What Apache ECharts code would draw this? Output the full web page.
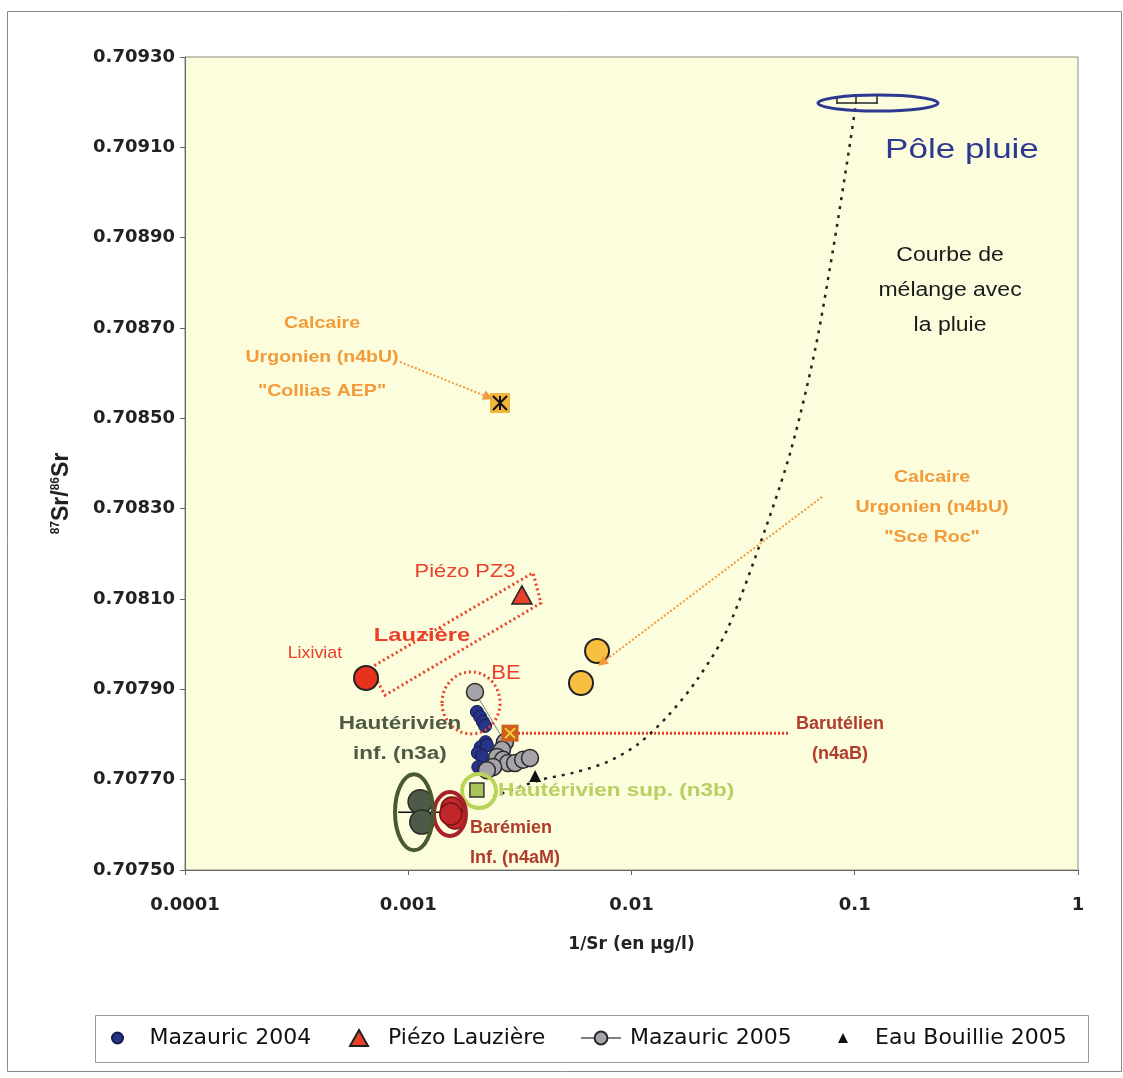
<!DOCTYPE html>
<html><head><meta charset="utf-8">
<script src="https://cdn.jsdelivr.net/npm/echarts@6/dist/echarts.min.js"></script>
<style>html,body{margin:0;padding:0;background:#fff}#c{width:1123px;height:1078px}</style>
</head><body><div id="c"></div>
<script>
// ---------- DATA ----------
const xTickLabels = ['0.0001', '0.001', '0.01', '0.1', '1'];
const yTickLabels = ['0.70750','0.70770','0.70790','0.70810','0.70830','0.70850','0.70870','0.70890','0.70910','0.70930'];

const mazauric2004 = [[0.00203,0.707850],[0.00210,0.707839],[0.00216,0.707828],[0.00221,0.707819],
  [0.00222,0.707783],[0.00211,0.707772],[0.00225,0.707776],[0.00205,0.707759],[0.00214,0.707752],[0.00206,0.707728]];
const mazauric2005 = [[0.00199,0.707894],[0.00271,0.707783],[0.00263,0.707766],[0.00250,0.707750],[0.00266,0.707744],
  [0.00280,0.707737],[0.00301,0.707737],[0.00327,0.707744],[0.00351,0.707748],[0.00240,0.707728],[0.00225,0.707721]];
const piezoLauziere = [[0.00323,0.708109]];
const eauBouillie2005 = [[0.00370,0.707708]];
const lixiviat = [[0.000647,0.707925]];
const colliasAEP = [[0.002576,0.708534]];
const sceRoc = [[0.00701,0.707985],[0.00594,0.707914]];
const barutelien = [[0.002857,0.707803]];
const hauterivienSup = [[0.00203,0.707677]];
const baremienInf = [[0.00157,0.707637],[0.00162,0.707615],[0.00155,0.707624]];
const hauterivienInf = [[0.00113,0.707651],[0.00115,0.707606]];
const hauterivienInfErr = [[0.00090,0.707628],[0.00162,0.707628]];
const polePluieErr = [[0.08325,0.1258,0.709198,0.1013]]; // [low, high, y, centre]
const mixingCurve = [[0.00240,0.707662],[0.00389,0.707699],[0.00547,0.707715],[0.00776,0.707739],[0.01058,0.707777],
  [0.01442,0.707839],[0.01965,0.707921],[0.02678,0.708031],[0.03963,0.708253],[0.05182,0.708430],
  [0.06637,0.708651],[0.07990,0.708873],[0.09423,0.709094],[0.1013,0.709198]];

// ---------- CHART ----------
const chart = echarts.init(document.getElementById('c'), null, {renderer:'canvas'});
const SANS = 'Liberation Sans, Arial, sans-serif';
const DJ = 'DejaVu Sans, sans-serif';
const legText = (pad)=>({fontFamily:DJ,fontSize:22,color:'#111',padding:[0,0,0,pad]});

const option = {
  backgroundColor:'#ffffff',
  animation:false,
  grid:{left:185,right:45,top:57,bottom:208,show:true,backgroundColor:'#fbfddc',borderColor:'#8c8c80',borderWidth:1},
  xAxis:{type:'log',logBase:10,min:0.0001,max:1,splitNumber:4,
    name:'1/Sr (en µg/l)',nameLocation:'middle',nameGap:66,
    nameTextStyle:{fontFamily:DJ,fontWeight:'bold',fontSize:17,color:'#222'},
    axisLine:{show:true,onZero:false,lineStyle:{color:'#666',width:1}},
    axisTick:{show:true,length:5,lineStyle:{color:'#666'}},
    splitLine:{show:false},minorTick:{show:false},
    axisLabel:{fontFamily:DJ,fontWeight:'bold',fontSize:18,color:'#222',margin:26,
      formatter:v=>xTickLabels[Math.round(Math.log10(v))+4]}},
  yAxis:{type:'value',min:0.7075,max:0.7093,interval:0.0002,
    name:'{s|87}Sr/{s|86}Sr',nameLocation:'middle',nameRotate:90,nameGap:112,
    nameTextStyle:{fontFamily:SANS,fontWeight:'bold',fontSize:23,color:'#222',padding:[0,60,0,0],
      rich:{s:{fontFamily:SANS,fontWeight:'bold',fontSize:12,verticalAlign:'top',padding:[0,0,9,0],color:'#222'}}},
    axisLine:{show:true,lineStyle:{color:'#666',width:1}},
    axisTick:{show:true,length:5,lineStyle:{color:'#666'}},
    splitLine:{show:false},
    axisLabel:{fontFamily:DJ,fontWeight:'bold',fontSize:18,color:'#222',margin:10,
      formatter:v=>yTickLabels[Math.round((v-0.7075)/0.0002)]}},
  legend:[
    {data:['Mazauric 2004'],left:111,top:1027,padding:0,itemWidth:12,itemHeight:11,textStyle:legText(21)},
    {data:['Piézo Lauzière'],left:349,top:1027,padding:0,itemWidth:18,itemHeight:16,textStyle:legText(15)},
    {data:['Mazauric 2005'],left:580,top:1027,padding:0,itemWidth:40,itemHeight:16,textStyle:legText(4)},
    {data:['Eau Bouillie 2005'],left:838,top:1027,padding:0,itemWidth:10,itemHeight:10,textStyle:legText(22)}
  ],
  series:[
    {name:'mixing',type:'line',data:mixingCurve,smooth:0.3,symbol:'none',z:1,silent:true,
      lineStyle:{color:'#222',width:2.5,type:[3,6]}},
    {name:'Mazauric 2005',type:'line',data:mazauric2005,symbol:'circle',symbolSize:17,showSymbol:true,showAllSymbol:true,z:4,
      lineStyle:{color:'#808080',width:1},itemStyle:{color:'#a7a3aa',borderColor:'#2a2a2a',borderWidth:1.5}},
    {name:'Mazauric 2004',type:'scatter',data:mazauric2004,symbol:'circle',symbolSize:13,z:3,
      itemStyle:{color:'#263386',borderColor:'#141c4c',borderWidth:1,opacity:1}},
    {name:'Piézo Lauzière',type:'scatter',data:piezoLauziere,symbol:'triangle',symbolSize:[20,18],z:5,
      itemStyle:{color:'#e8402a',borderColor:'#222',borderWidth:1.5,opacity:1}},
    {name:'Eau Bouillie 2005',type:'scatter',data:eauBouillie2005,symbol:'triangle',symbolSize:12,z:5,
      itemStyle:{color:'#111',opacity:1}},
    {name:'Lixiviat',type:'scatter',data:lixiviat,symbol:'circle',symbolSize:24,z:5,
      itemStyle:{color:'#e8321e',borderColor:'#222',borderWidth:2,opacity:1}},
    {name:'Collias',type:'scatter',data:colliasAEP,symbol:'rect',symbolSize:20,z:5,
      itemStyle:{color:'#f0b43c',opacity:1}},
    {name:'Collias*',type:'scatter',data:colliasAEP,symbol:'path://M0 0L10 10M10 0L0 10M5 0L5 10',symbolSize:14,z:6,
      itemStyle:{color:'rgba(0,0,0,0)',borderColor:'#111',borderWidth:2,opacity:1}},
    {name:'SceRoc',type:'scatter',data:sceRoc,symbol:'circle',symbolSize:24,z:5,
      itemStyle:{color:'#f7c040',borderColor:'#222',borderWidth:2,opacity:1}},
    {name:'Barut',type:'scatter',data:barutelien,symbol:'rect',symbolSize:17,z:6,
      itemStyle:{color:'#cf5f1c',opacity:1}},
    {name:'BarutX',type:'scatter',data:barutelien,symbol:'path://M0 0L10 10M10 0L0 10',symbolSize:10,z:7,
      itemStyle:{color:'rgba(0,0,0,0)',borderColor:'#f5d040',borderWidth:2,opacity:1}},
    {name:'HautSup',type:'scatter',data:hauterivienSup,symbol:'rect',symbolSize:14,z:6,
      itemStyle:{color:'#a9c45a',borderColor:'#333',borderWidth:1.5,opacity:1}},
    {name:'HautInfErr',type:'line',data:hauterivienInfErr,symbol:'none',z:4,lineStyle:{color:'#111',width:1.5}},
    {name:'Baremien',type:'scatter',data:baremienInf,symbol:'circle',symbolSize:22,z:5,
      itemStyle:{color:'#c0262a',borderColor:'#7a1414',borderWidth:1.5,opacity:1}},
    {name:'HautInf',type:'scatter',data:hauterivienInf,symbol:'circle',symbolSize:24,z:5,
      itemStyle:{color:'#4d5a48',borderColor:'#2a2a2a',borderWidth:1.5,opacity:1}},
    {name:'PoleErr',type:'custom',data:polePluieErr,z:6,encode:{x:[0,1,3],y:2},
      renderItem:(params,api)=>{
        const y=api.value(2);
        const lo=api.coord([api.value(0),y]),hi=api.coord([api.value(1),y]),mid=api.coord([api.value(3),y]);
        const st={stroke:'#222',lineWidth:1.5};
        return {type:'group',children:[
          {type:'line',shape:{x1:lo[0],y1:lo[1],x2:hi[0],y2:hi[1]},style:st},
          {type:'line',shape:{x1:lo[0],y1:lo[1]-7,x2:lo[0],y2:lo[1]+1},style:st},
          {type:'line',shape:{x1:mid[0],y1:mid[1]-7,x2:mid[0],y2:mid[1]+1},style:st},
          {type:'line',shape:{x1:hi[0],y1:hi[1]-7,x2:hi[0],y2:hi[1]+1},style:st}
        ]};
      }}
  ]
};
chart.setOption(option);

// ---------- ANNOTATIONS (anchored in data coordinates) ----------
const P = (pt)=>chart.convertToPixel({xAxisIndex:0,yAxisIndex:0},pt);
const annoTexts = [
  {t:'Pôle pluie',at:[0.3022,0.709094],size:28,w:'normal',c:'#2d3990',sx:1.25},
  {t:'Courbe de\nmélange avec\nla pluie',at:[0.2672,0.708784],size:20,w:'normal',c:'#1a1a1a',sx:1.15,lh:35},
  {t:'Calcaire\nUrgonien (n4bU)\n"Collias AEP"',at:[0.000411,0.708634],size:17,w:'bold',c:'#f39a3a',sx:1.15,lh:34},
  {t:'Calcaire\nUrgonien (n4bU)\n"Sce Roc"',at:[0.2218,0.708304],size:17,w:'bold',c:'#f39a3a',sx:1.15,lh:30},
  {t:'Piézo PZ3',at:[0.001796,0.708160],size:19,w:'normal',c:'#e8402a',sx:1.15},
  {t:'Lauzière',at:[0.001152,0.708018],size:19,w:'bold',c:'#e8402a',sx:1.25},
  {t:'Lixiviat',at:[0.000382,0.707980],size:17,w:'normal',c:'#e8402a',sx:1.05},
  {t:'BE',at:[0.002741,0.707934],size:20,w:'normal',c:'#e8402a',sx:1.1},
  {t:'Hautérivien\ninf. (n3a)',at:[0.000918,0.707790],size:18,w:'bold',c:'#4f5a46',sx:1.25,lh:30},
  {t:'Barutélien\n(n4aB)',at:[0.0859,0.707790],size:18,w:'bold',c:'#b03c2c',sx:1.0,lh:30},
  {t:'Hautérivien sup. (n3b)',at:[0.002523,0.707675],size:18,w:'bold',c:'#b9cf62',sx:1.25,align:'left'},
  {t:'Barémien\nInf. (n4aM)',at:[0.001891,0.707560],size:18,w:'bold',c:'#b03c2c',sx:1.0,lh:30,align:'left'}
];
const annoEllipses = [
  {at:[0.1271,0.709198],rx:60,ry:8,c:'#2d3990',lw:3},
  {at:[0.002075,0.707675],rx:17,ry:17,c:'#b9d45a',lw:4},
  {at:[0.001538,0.707624],rx:16,ry:22,c:'#a8202a',lw:4},
  {at:[0.001061,0.707628],rx:19,ry:38,c:'#4a5a30',lw:4},
  {at:[0.001911,0.707870],rx:29,ry:31,c:'#e8402a',lw:3,dash:[2,3]}
];
const lauzierePoly = [[0.000674,0.707947],[0.003622,0.708158],[0.003932,0.708091],[0.000787,0.707887]];
const barutLine = [[0.002857,0.707803],[0.05023,0.707803]];
const arrows = [
  {from:[0.000918,0.708625],to:[0.002396,0.708543],c:'#f39a3a'},
  {from:[0.07133,0.708326],to:[0.007079,0.707952],c:'#f39a3a'}
];

const g = [];
g.push({type:'rect',shape:{x:7.5,y:11.5,width:1114,height:1060},style:{fill:'none',stroke:'#8a8a8a',lineWidth:1},z:0,silent:true});
g.push({type:'rect',shape:{x:95.5,y:1015.5,width:993,height:47},style:{fill:'none',stroke:'#999',lineWidth:1},z:0,silent:true});
g.push({type:'polygon',shape:{points:lauzierePoly.map(P)},style:{fill:'none',stroke:'#e8402a',lineWidth:3,lineDash:[2,3]},z:1,silent:true});
{const a=P(barutLine[0]),b=P(barutLine[1]);
 g.push({type:'line',shape:{x1:a[0],y1:a[1],x2:b[0],y2:b[1]},style:{stroke:'#e0402a',lineWidth:3,lineDash:[2,2]},z:1,silent:true});}
arrows.forEach(ar=>{
  const a=P(ar.from),b=P(ar.to);
  const ang=Math.atan2(b[1]-a[1],b[0]-a[0]);
  const L=10,W=5;
  const bx=b[0]-L*Math.cos(ang),by=b[1]-L*Math.sin(ang);
  g.push({type:'line',shape:{x1:a[0],y1:a[1],x2:bx,y2:by},style:{stroke:ar.c,lineWidth:2,lineDash:[2,2]},z:10,silent:true});
  g.push({type:'polygon',shape:{points:[[b[0],b[1]],[bx-W*Math.sin(ang),by+W*Math.cos(ang)],[bx+W*Math.sin(ang),by-W*Math.cos(ang)]]},
    style:{fill:ar.c},z:10,silent:true});
});
annoEllipses.forEach(e=>{
  const p=P(e.at);
  g.push({type:'ellipse',shape:{cx:p[0],cy:p[1],rx:e.rx,ry:e.ry},style:{fill:'none',stroke:e.c,lineWidth:e.lw,lineDash:e.dash||null},z:10,silent:true});
});
annoTexts.forEach(a=>{
  const p=P(a.at);
  g.push({type:'text',x:p[0],y:p[1],scaleX:a.sx,z:20,silent:true,
    style:{text:a.t,fill:a.c,font:a.w+' '+a.size+'px '+SANS,align:a.align||'center',verticalAlign:'middle',lineHeight:a.lh||a.size*1.2}});
});
chart.setOption({graphic:{elements:g}});
</script>
</body></html>
